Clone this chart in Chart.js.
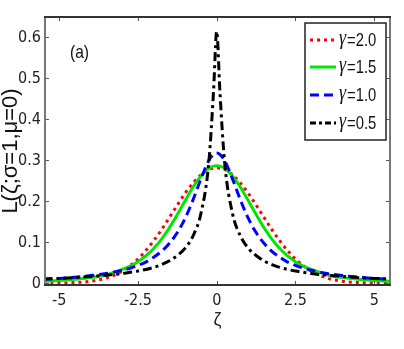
<!DOCTYPE html>
<html>
<head>
<meta charset="utf-8">
<script src="https://cdn.jsdelivr.net/npm/chart.js@4.4.0/dist/chart.umd.min.js"></script>
<style>
  html, body { margin: 0; padding: 0; background: #fff; }
  #wrap { width: 404px; height: 349px; }
</style>
</head>
<body>
<div id="wrap"><canvas id="grafico"></canvas></div>
<script>
// --- dados ---
const zeta = [-5.5, -5, -4.5, -4, -3.5, -3, -2.75, -2.5, -2.25, -2, -1.75, -1.5, -1.25, -1, -0.75, -0.5, -0.25, -0.1,
  0, 0.1, 0.25, 0.5, 0.75, 1, 1.25, 1.5, 1.75, 2, 2.25, 2.5, 2.75, 3, 3.5, 4, 4.5, 5, 5.5];

const gamma20 = [0.0001, 0.0005, 0.002, 0.005, 0.013, 0.030, 0.043, 0.059, 0.080, 0.104, 0.131, 0.161, 0.191, 0.220, 0.245, 0.265, 0.278, 0.281,
  0.282, 0.281, 0.278, 0.265, 0.245, 0.220, 0.191, 0.161, 0.131, 0.104, 0.080, 0.059, 0.043, 0.030, 0.013, 0.005, 0.002, 0.0005, 0.0001];

const gamma15 = [0.005, 0.007, 0.010, 0.014, 0.021, 0.034, 0.042, 0.053, 0.067, 0.085, 0.108, 0.136, 0.168, 0.202, 0.235, 0.262, 0.281, 0.286,
  0.287, 0.286, 0.281, 0.262, 0.235, 0.202, 0.168, 0.136, 0.108, 0.085, 0.067, 0.053, 0.042, 0.034, 0.021, 0.014, 0.010, 0.007, 0.005];

const gamma10 = [0.010, 0.012, 0.015, 0.019, 0.024, 0.032, 0.037, 0.044, 0.052, 0.064, 0.078, 0.098, 0.124, 0.159, 0.204, 0.255, 0.300, 0.315,
  0.318, 0.315, 0.300, 0.255, 0.204, 0.159, 0.124, 0.098, 0.078, 0.064, 0.052, 0.044, 0.037, 0.032, 0.024, 0.019, 0.015, 0.012, 0.010];

const gamma05 = [0.011, 0.012, 0.014, 0.017, 0.020, 0.024, 0.027, 0.030, 0.034, 0.039, 0.046, 0.055, 0.068, 0.086, 0.116, 0.171, 0.296, 0.470,
  0.615, 0.470, 0.296, 0.171, 0.116, 0.086, 0.068, 0.055, 0.046, 0.039, 0.034, 0.030, 0.027, 0.024, 0.020, 0.017, 0.014, 0.012, 0.011];

const seriesLabels = ['γ=2.0', 'γ=1.5', 'γ=1.0', 'γ=0.5'];
const xTicks = [-5, -2.5, 0, 2.5, 5];
const yTicks = [0, 0.1, 0.2, 0.3, 0.4, 0.5, 0.6];

const narrow = "'Liberation Sans Narrow', 'DejaVu Sans Condensed', 'Liberation Sans', sans-serif";

function pts(values) {
    return zeta.map((x, i) => ({ x: x, y: values[i] }));
}

// Estilos das curvas (cor, traço)
const styles = [
    { color: '#ff0000', dash: [3, 4], order: 3 },
    { color: '#00e600', dash: [], order: 2 },
    { color: '#0000ff', dash: [9, 5], order: 1 },
    { color: '#000000', dash: [9, 4, 3, 4], order: 0 }
];

const seriesValues = [gamma20, gamma15, gamma10, gamma05];

const datasets = seriesValues.map((vals, i) => ({
    label: seriesLabels[i],
    data: pts(vals),
    borderColor: styles[i].color,
    borderDash: styles[i].dash,
    borderWidth: 3,
    pointRadius: 0,
    fill: false,
    cubicInterpolationMode: 'monotone',
    order: styles[i].order
}));

// texto comprimido na horizontal, como na figura original
function squeezedText(ctx, text, x, y, sx) {
    ctx.save();
    ctx.translate(x, y);
    ctx.scale(sx, 1);
    ctx.fillText(text, 0, 0);
    const w = ctx.measureText(text).width * sx;
    ctx.restore();
    return w;
}

// Moldura, marcas internas, legenda e rótulo "(a)"
const framePlugin = {
    id: 'framePlugin',
    afterDraw(chart) {
        const ctx = chart.ctx;
        const a = chart.chartArea;
        const xs = chart.scales.x;
        const ys = chart.scales.y;
        ctx.save();

        // marcas internas
        ctx.strokeStyle = '#555';
        ctx.lineWidth = 1;
        ctx.setLineDash([]);
        xTicks.forEach(v => {
            const px = Math.round(xs.getPixelForValue(v)) + 0.5;
            ctx.beginPath();
            ctx.moveTo(px, a.bottom); ctx.lineTo(px, a.bottom - 4);
            ctx.moveTo(px, a.top); ctx.lineTo(px, a.top + 4);
            ctx.stroke();
        });
        yTicks.forEach(v => {
            const py = Math.round(ys.getPixelForValue(v)) + 0.5;
            ctx.beginPath();
            ctx.moveTo(a.left, py); ctx.lineTo(a.left + 4, py);
            ctx.moveTo(a.right, py); ctx.lineTo(a.right - 4, py);
            ctx.stroke();
        });

        // moldura
        ctx.lineWidth = 2;
        ctx.strokeStyle = '#777';
        ctx.beginPath();
        ctx.moveTo(a.left, a.top); ctx.lineTo(a.left, a.bottom);
        ctx.moveTo(a.right, a.top); ctx.lineTo(a.right, a.bottom);
        ctx.stroke();
        ctx.strokeStyle = '#333';
        ctx.beginPath();
        ctx.moveTo(a.left - 1, a.top); ctx.lineTo(a.right + 1, a.top);
        ctx.moveTo(a.left - 1, a.bottom); ctx.lineTo(a.right + 1, a.bottom);
        ctx.stroke();

        // rótulo (a)
        ctx.fillStyle = '#111';
        ctx.font = '19px "Liberation Sans", sans-serif';
        ctx.textAlign = 'left';
        ctx.textBaseline = 'middle';
        squeezedText(ctx, '(a)', 70, 53, 0.82);

        // legenda
        const box = { x: 305, y: 23, w: 81, h: 117 };
        ctx.fillStyle = '#fff';
        ctx.fillRect(box.x, box.y, box.w, box.h);
        ctx.strokeStyle = '#222';
        ctx.lineWidth = 1.5;
        ctx.strokeRect(box.x, box.y, box.w, box.h);

        const rows = [40, 67, 95, 123];
        chart.data.datasets.forEach((ds, i) => {
            const y = rows[i];
            ctx.strokeStyle = ds.borderColor;
            ctx.lineWidth = 3;
            ctx.setLineDash(i === 3 ? [6, 3, 3, 3] : ds.borderDash);
            ctx.beginPath();
            ctx.moveTo(310, y); ctx.lineTo(336, y);
            ctx.stroke();
            ctx.setLineDash([]);

            const sym = ds.label.charAt(0);
            const rest = ds.label.slice(1);
            ctx.fillStyle = '#111';
            ctx.textAlign = 'left';
            ctx.textBaseline = 'middle';
            ctx.font = 'italic 20px "Liberation Serif", serif';
            const w = squeezedText(ctx, sym, 339, y - 1, 0.9);
            ctx.font = '19px "Liberation Sans", sans-serif';
            squeezedText(ctx, rest, 339 + w + 1, y + 1, 0.78);
        });

        ctx.restore();
    }
};

const config = {
    type: 'line',
    data: { datasets: datasets },
    options: {
        responsive: true,
        maintainAspectRatio: false,
        animation: false,
        layout: { padding: { left: 0, top: 17, right: 14, bottom: 0 } },
        plugins: {
            legend: { display: false },
            tooltip: { enabled: false }
        },
        scales: {
            x: {
                type: 'linear',
                min: -5.45,
                max: 5.5,
                grid: { display: false, drawTicks: false },
                border: { display: false },
                afterBuildTicks: s => { s.ticks = xTicks.map(v => ({ value: v })); },
                afterFit: s => { s.height = 64; },
                ticks: {
                    padding: 6,
                    color: '#222',
                    font: { family: narrow, size: 16 },
                    callback: v => String(v)
                },
                title: {
                    display: true,
                    text: 'ζ',
                    color: '#222',
                    font: { family: "'Liberation Sans', sans-serif", size: 18 },
                    padding: { top: 0, bottom: 18 }
                }
            },
            y: {
                min: -0.004,
                max: 0.65,
                grid: { display: false, drawTicks: false },
                border: { display: false },
                afterBuildTicks: s => { s.ticks = yTicks.map(v => ({ value: v })); },
                afterFit: s => { s.width = 45; },
                ticks: {
                    padding: 4,
                    color: '#222',
                    font: { family: narrow, size: 16 },
                    callback: v => String(v)
                },
                title: {
                    display: true,
                    text: 'L(ζ;σ=1,μ=0)',
                    color: '#111',
                    font: { family: "'Liberation Sans', sans-serif", size: 22, lineHeight: 1 },
                    padding: { top: 0, bottom: 0 }
                }
            }
        }
    },
    plugins: [framePlugin]
};

const canvas = document.getElementById('grafico');
window.myChart = new Chart(canvas.getContext('2d'), config);
</script>
</body>
</html>
